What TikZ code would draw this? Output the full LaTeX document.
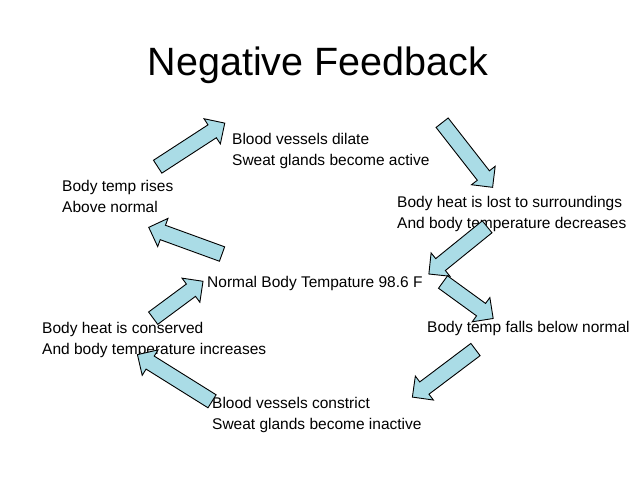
\documentclass[tikz,border=0pt]{standalone}
\usepackage{fontspec}
\setmainfont{Liberation Sans}
\usetikzlibrary{shapes.arrows}
\definecolor{arrfill}{RGB}{170,220,230}
\begin{document}
\begin{tikzpicture}[x=1pt,y=-1pt,
  lbl/.style={anchor=west,align=left,font=\fontsize{15.5}{21}\selectfont,inner sep=0},
  barrow/.style={single arrow,draw=black,fill=arrfill,line width=0.9pt,
    minimum width=30pt,inner xsep=0pt,inner ysep=7pt,single arrow head indent=0pt}]
\useasboundingbox (0,0) rectangle (638,479);
\node[font=\fontsize{39.5}{44}\selectfont] (title) at (318,65) {Negative Feedback};
\node[lbl] (t1) at (232,151) {Blood vessels dilate\\Sweat glands become active};
\node[lbl] (t2) at (62,196) {Body temp rises\\Above normal};
\node[lbl] (t3) at (397,214) {Body heat is lost to surroundings\\And body temperature decreases};
\node[lbl] (t4) at (207,283) {Normal Body Tempature 98.6 F};
\node[lbl] (t5) at (42,340) {Body heat is conserved\\And body temperature increases};
\node[lbl] (t6) at (427,328) {Body temp falls below normal};
\node[lbl] (t7) at (212,415) {Blood vessels constrict\\Sweat glands become inactive};
\node[barrow,minimum height=80pt,rotate=33] (a1) at (188,147) {};
\node[barrow,minimum height=82pt,rotate=-52] (a2) at (465,152) {};
\node[barrow,minimum height=75pt,rotate=219] (a3) at (461,248) {};
\node[barrow,minimum height=62pt,rotate=-36] (a4) at (465,298) {};
\node[barrow,minimum height=79pt,rotate=217] (a5) at (447,371) {};
\node[barrow,minimum height=88pt,rotate=148] (a6) at (178,380) {};
\node[barrow,minimum height=62pt,rotate=36.5] (a7) at (175,302) {};
\node[barrow,minimum height=78pt,rotate=160] (a8) at (189,242) {};
\end{tikzpicture}
\end{document}
